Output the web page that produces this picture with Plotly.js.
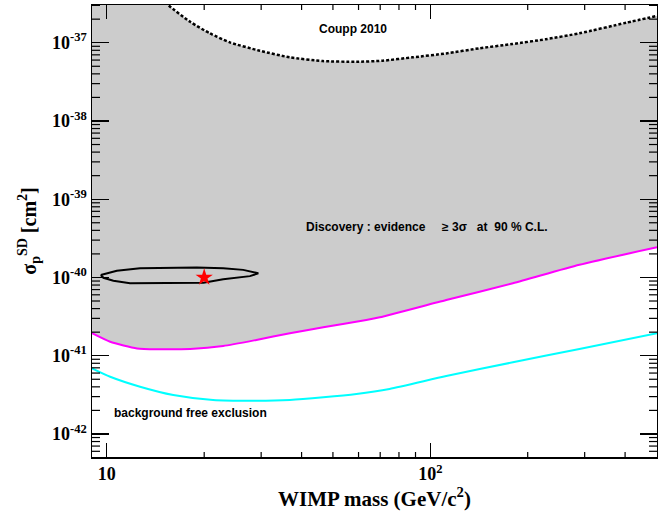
<!DOCTYPE html>
<html>
<head>
<meta charset="utf-8">
<script src="https://cdn.plot.ly/plotly-3.0.1.min.js"></script>
<style>
  html, body { margin: 0; padding: 0; background: #fff; }
  #chart { width: 658px; height: 521px; }
</style>
</head>
<body>
<div id="chart"></div>
<script>
// COUPP 2010 spin-dependent limit: upper edge of the shaded discovery region
const couppMass  = [9.0, 12.0, 14.5, 15.5, 18.1, 20.8, 24.0, 29.7, 36.8, 46.5, 59.1, 71.3, 88.2, 112, 142, 179, 228, 289, 403, 502];
const couppSigma = [3e-36, 1e-36, 4.2e-37, 3.03e-37, 1.85e-37, 1.32e-37, 1.01e-37, 7.9e-38, 6.5e-38, 5.83e-38, 5.71e-38, 5.89e-38, 6.5e-38, 7.3e-38, 8.5e-38, 9.6e-38, 1.11e-37, 1.32e-37, 1.80e-37, 2.2e-37];

// Discovery reach: evidence >= 3 sigma at 90 % C.L. (lower edge of the shaded region)
const discMass  = [9.0, 10.24, 12.4, 14.3, 18.1, 22.9, 29.0, 36.8, 46.7, 63.4, 69.8, 112, 180, 289, 502];
const discSigma = [1.94e-41, 1.51e-41, 1.24e-41, 1.21e-41, 1.22e-41, 1.33e-41, 1.59e-41, 1.94e-41, 2.31e-41, 2.86e-41, 3.10e-41, 5.15e-41, 8.43e-41, 1.45e-40, 2.43e-40];

// Background free exclusion limit
const exclMass  = [9.0, 10.24, 12.67, 16.05, 21.3, 29.0, 36.8, 46.7, 59.1, 74.8, 112, 180, 289, 502];
const exclSigma = [6.9e-42, 5.39e-42, 4.02e-42, 3.15e-42, 2.72e-42, 2.66e-42, 2.72e-42, 2.94e-42, 3.24e-42, 3.76e-42, 5.5e-42, 8.24e-42, 1.22e-41, 1.94e-41];

// Reconstructed region around the input WIMP
const contourMass  = [9.58, 10.74, 12.67, 18.96, 22.9, 26.4, 29.4, 27.7, 22.9, 19.9, 11.8, 10.48, 9.76, 9.58];
const contourSigma = [1.076e-40, 1.22e-40, 1.31e-40, 1.34e-40, 1.31e-40, 1.25e-40, 1.13e-40, 1.04e-40, 9.5e-41, 8.58e-41, 8.43e-41, 9.1e-41, 9.9e-41, 1.076e-40];

// Input WIMP
const benchMass  = [20];
const benchSigma = [1e-40];

// Axis ticks
const xTickVals = [10, 100];
const xTickText = ['10', '10<sup>2</sup>'];
const yTickVals = [1e-42, 1e-41, 1e-40, 1e-39, 1e-38, 1e-37];
const yTickText = ['10<sup>-42</sup>', '10<sup>-41</sup>', '10<sup>-40</sup>', '10<sup>-39</sup>', '10<sup>-38</sup>', '10<sup>-37</sup>'];
const xMinorVals = [20, 30, 40, 50, 60, 70, 80, 90, 200, 300, 400];
const yMinorVals = [];
for (let d = -43; d <= -37; d++) {
  for (let k = 2; k <= 9; k++) yMinorVals.push(k * Math.pow(10, d));
}

const xRange = [Math.log10(9.0), Math.log10(502)];
const yRange = [-42.2946, -36.518];

const grey = 'rgb(204,204,204)';
const serif = 'Liberation Serif, Times New Roman, serif';
const sans = 'Liberation Sans, Arial, sans-serif';

// Plot-area size in px (used for tick-mark lengths)
const margin = { l: 92, r: 1, t: 5, b: 64 };
const W = 658 - margin.l - margin.r;
const H = 521 - margin.t - margin.b;

// Inward minor tick marks on all four sides of the frame, as short segments
// expressed in axis units (log axes: offset the exponent by the tick length)
const xSpan = xRange[1] - xRange[0];
const ySpan = yRange[1] - yRange[0];
const tickX = [], tickY = [];
function inRange(lo, hi, v) { const l = Math.log10(v); return l > lo && l < hi; }
function addXTick(v, len) {
  if (!inRange(xRange[0], xRange[1], v)) return;
  const d = len / H * ySpan;
  tickX.push(v, v, null, v, v, null);
  tickY.push(Math.pow(10, yRange[0]), Math.pow(10, yRange[0] + d), null,
             Math.pow(10, yRange[1]), Math.pow(10, yRange[1] - d), null);
}
function addYTick(v, len) {
  if (!inRange(yRange[0], yRange[1], v)) return;
  const d = len / W * xSpan;
  tickY.push(v, v, null, v, v, null);
  tickX.push(Math.pow(10, xRange[0]), Math.pow(10, xRange[0] + d), null,
             Math.pow(10, xRange[1]), Math.pow(10, xRange[1] - d), null);
}
xMinorVals.forEach(v => addXTick(v, 5));
yMinorVals.forEach(v => addYTick(v, 8));

const traces = [
  // shaded region between discovery reach and COUPP limit
  { x: discMass, y: discSigma, mode: 'lines', line: { width: 0, shape: 'spline', smoothing: 0.6 }, hoverinfo: 'skip', showlegend: false },
  { x: couppMass, y: couppSigma, mode: 'lines', line: { width: 0, shape: 'spline', smoothing: 0.6 }, fill: 'tonexty', fillcolor: grey, hoverinfo: 'skip', showlegend: false },
  // curves
  { x: couppMass, y: couppSigma, mode: 'lines', name: 'Coupp 2010', line: { color: '#000', width: 2.5, dash: '3px,2px', shape: 'spline', smoothing: 0.6 } },
  { x: discMass, y: discSigma, mode: 'lines', name: 'Discovery', line: { color: '#ff00ff', width: 2, shape: 'spline', smoothing: 0.6 } },
  { x: exclMass, y: exclSigma, mode: 'lines', name: 'Exclusion', line: { color: '#00ffff', width: 2, shape: 'spline', smoothing: 0.6 } },
  { x: contourMass, y: contourSigma, mode: 'lines', name: 'Region', line: { color: '#000', width: 2 } },
  { x: benchMass, y: benchSigma, mode: 'markers', name: 'Input', marker: { symbol: 'star', size: 13, color: '#ff0000' } },
  // minor tick marks on the frame
  { x: tickX, y: tickY, mode: 'lines', connectgaps: false, line: { color: '#000', width: 1.2 }, hoverinfo: 'skip', showlegend: false }
];

const tickFont = { family: serif, size: 18, color: '#000', weight: 'bold' };

const layout = {
  width: 658,
  height: 521,
  margin: margin,
  paper_bgcolor: '#fff',
  plot_bgcolor: '#fff',
  showlegend: false,
  xaxis: {
    type: 'log', range: xRange,
    tickmode: 'array', tickvals: xTickVals, ticktext: xTickText,
    ticks: 'inside', ticklen: 14, tickwidth: 1.2, tickcolor: '#000',
    showline: true, linecolor: '#000', linewidth: 1.5, mirror: 'ticks',
    showgrid: false, zeroline: false,
    tickfont: tickFont,
    title: { text: 'WIMP mass (GeV/c<sup>2</sup>)', font: { family: serif, size: 21, color: '#000', weight: 'bold' }, standoff: 4 }
  },
  yaxis: {
    type: 'log', range: yRange,
    tickmode: 'array', tickvals: yTickVals, ticktext: yTickText,
    ticks: 'inside', ticklen: 17, tickwidth: 1.2, tickcolor: '#000',
    showline: true, linecolor: '#000', linewidth: 1.5, mirror: 'ticks',
    showgrid: false, zeroline: false,
    tickfont: tickFont,
    title: { text: 'σ<sub>p</sub><sup>SD</sup> [cm<sup>2</sup>]', font: { family: serif, size: 20, color: '#000', weight: 'bold' }, standoff: 10 }
  },
  annotations: [
    { xref: 'paper', yref: 'paper', x: 0.4628, y: 0.9469, xanchor: 'center', yanchor: 'middle',
      text: 'Coupp 2010', showarrow: false,
      font: { family: sans, size: 12, color: '#000', weight: 'bold' } },
    { xref: 'paper', yref: 'paper', x: 0.5929, y: 0.5088, xanchor: 'center', yanchor: 'middle',
      text: 'Discovery : evidence\u00a0\u00a0\u00a0\u00a0\u00a0≥ 3σ\u00a0\u00a0\u00a0at\u00a0\u00a090 % C.L.', showarrow: false,
      font: { family: sans, size: 12, color: '#000', weight: 'bold' } },
    { xref: 'paper', yref: 'paper', x: 0.1743, y: 0.098, xanchor: 'center', yanchor: 'middle',
      text: 'background free exclusion', showarrow: false,
      font: { family: sans, size: 12, color: '#000', weight: 'bold' } }
  ]
};

Plotly.newPlot('chart', traces, layout, { displayModeBar: false, staticPlot: true });
</script>
</body>
</html>
